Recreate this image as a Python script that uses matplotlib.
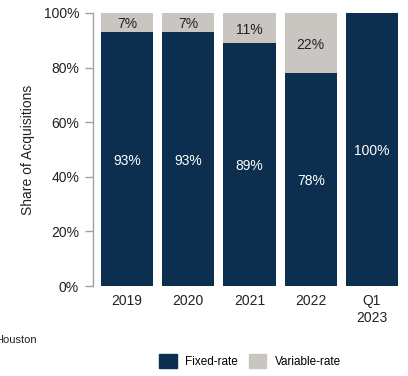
import matplotlib.pyplot as plt
from matplotlib.patches import Patch
import numpy as np

plt.rcParams['font.family'] = ['Liberation Sans', 'DejaVu Sans']

periods = ['2019', '2020', '2021', '2022', 'Q1\n2023']
fixed_rate = [93, 93, 89, 78, 100]
variable_rate = [7, 7, 11, 22, 0]

navy = '#0C2F4F'
grey = '#C9C6C2'

fig = plt.figure(figsize=(4.08, 3.76), dpi=100)
ax = fig.add_axes([93 / 408, 1 - 286 / 376, 312 / 408, 273 / 376])

x = np.arange(len(periods))
ax.bar(x, fixed_rate, width=0.85, color=navy, label='Fixed-rate')
ax.bar(x, variable_rate, width=0.85, bottom=fixed_rate, color=grey, label='Variable-rate')

# segment labels
for i in range(len(periods)):
    ax.text(x[i], fixed_rate[i] / 2, f'{fixed_rate[i]}%', ha='center', va='center_baseline',
            color='white', fontsize=10)
    if variable_rate[i] > 0:
        ax.text(x[i], fixed_rate[i] + variable_rate[i] / 2, f'{variable_rate[i]}%',
                ha='center', va='center_baseline', color='#222222', fontsize=10)

ax.set_xlim(-0.555, -0.555 + 312 / 61.25)
ax.set_ylim(0, 100)
ax.set_yticks([0, 20, 40, 60, 80, 100])
ax.set_yticklabels([f'{v}%' for v in [0, 20, 40, 60, 80, 100]])
ax.set_xticks(x)
ax.set_xticklabels(periods)
ax.tick_params(axis='x', length=0, pad=6, labelsize=10, labelcolor='#222222')
ax.tick_params(axis='y', length=6, width=1, color='#A0A0A0', pad=4, labelsize=10,
               labelcolor='#222222')
for side in ['top', 'right', 'bottom']:
    ax.spines[side].set_visible(False)
ax.spines['left'].set_color('#A0A0A0')
ax.spines['left'].set_linewidth(1)
ax.set_ylabel('Share of Acquisitions', fontsize=10, color='#222222', labelpad=6)

fig.text(-0.012, 1 - 340 / 376, 'Houston', fontsize=8, color='#222222',
         ha='left', va='center')

handles = [Patch(color=navy, label='Fixed-rate'), Patch(color=grey, label='Variable-rate')]
fig.legend(handles=handles, loc='center', bbox_to_anchor=(250 / 408, 1 - 361 / 376), ncol=2,
           frameon=False, fontsize=8.5, handlelength=1.5, handleheight=1.5,
           columnspacing=0.9, handletextpad=0.7)

fig.savefig('out.png', dpi=100)
